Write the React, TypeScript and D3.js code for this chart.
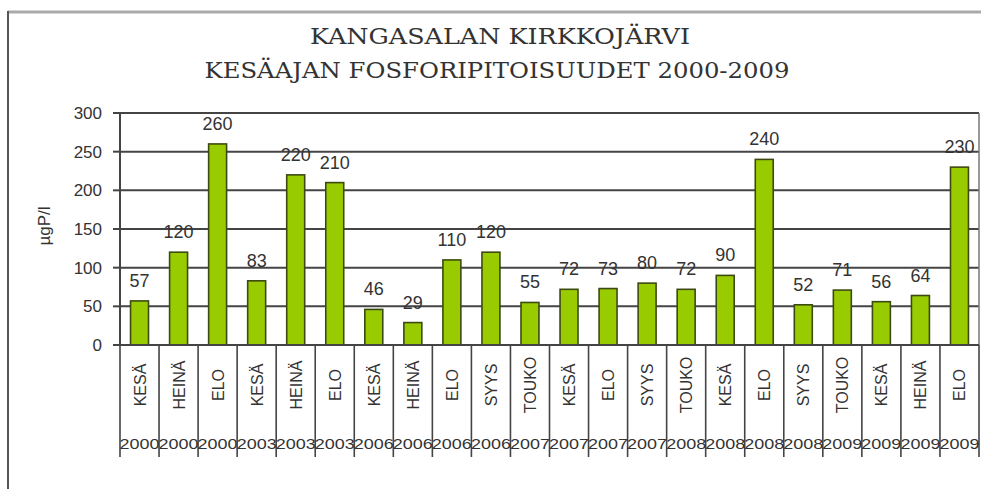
import React from "react";
import * as d3 from "d3";

const months = ["KESÄ","HEINÄ","ELO","KESÄ","HEINÄ","ELO","KESÄ","HEINÄ","ELO","SYYS","TOUKO","KESÄ","ELO","SYYS","TOUKO","KESÄ","ELO","SYYS","TOUKO","KESÄ","HEINÄ","ELO"];
const years = ["2000","2000","2000","2003","2003","2003","2006","2006","2006","2006","2007","2007","2007","2007","2008","2008","2008","2008","2009","2009","2009","2009"];
const values = [57,120,260,83,220,210,46,29,110,120,55,72,73,80,72,90,240,52,71,56,64,230];
const yTicks = [0,50,100,150,200,250,300];
const title1 = "KANGASALAN KIRKKOJÄRVI";
const title2 = "KESÄAJAN FOSFORIPITOISUUDET 2000-2009";
const yLabel = "µgP/l";

export default function App() {
  const W = 981, H = 489;
  const left = 120, right = 979, top = 113, bottom = 345;
  const idx = values.map((_, i) => i);
  const x = d3.scaleBand<number>().domain(idx).range([left, right]).padding(0);
  const y = d3.scaleLinear().domain([0, 300]).range([bottom, top]);
  const bw = x.bandwidth() * 0.46;
  const font = "'Liberation Sans', Arial, sans-serif";
  return (
    <svg width={W} height={H} style={{ position: "absolute", left: 0, top: 0, background: "#fff" }}>
      {/* outer frame */}
      <line x1={8} x2={W} y1={12} y2={12} stroke="#aaa" strokeWidth={3} />
      <line x1={8} x2={8} y1={11} y2={H} stroke="#555" strokeWidth={2} />
      {/* title */}
      <text x={500} y={44} textAnchor="middle" fontFamily="'DejaVu Serif', serif" fontSize={22} fill="#333" textLength={380} lengthAdjust="spacingAndGlyphs">{title1}</text>
      <text x={497} y={78} textAnchor="middle" fontFamily="'DejaVu Serif', serif" fontSize={22} fill="#333" textLength={585} lengthAdjust="spacingAndGlyphs">{title2}</text>
      {/* gridlines */}
      {yTicks.map(t => (
        <g key={t}>
          <line x1={left} x2={right} y1={y(t)} y2={y(t)} stroke="#444" strokeWidth={2} />
          <line x1={113} x2={left} y1={y(t)} y2={y(t)} stroke="#444" strokeWidth={2} />
          <text x={102} y={y(t) + 6} textAnchor="end" fontFamily={font} fontSize={17} fill="#333">{t}</text>
        </g>
      ))}
      <line x1={left} x2={left} y1={top} y2={bottom} stroke="#444" strokeWidth={2} />
      <line x1={right} x2={right} y1={top} y2={bottom} stroke="#777" strokeWidth={1.5} />
      <text transform={`translate(50,226) rotate(-90)`} textAnchor="middle" fontFamily={font} fontSize={17} fill="#333">{yLabel}</text>
      {/* bars */}
      {values.map((v, i) => {
        const cx = (x(i) as number) + x.bandwidth() / 2;
        return (
          <g key={i}>
            <rect x={cx - bw / 2} y={y(v)} width={bw} height={bottom - y(v)} fill="#99cc00" stroke="#3c4a12" strokeWidth={1.6} />
            <text x={cx} y={y(v) - 14} textAnchor="middle" fontFamily={font} fontSize={18} fill="#333">{v}</text>
          </g>
        );
      })}
      {/* category axis */}
      {idx.concat([values.length]).map(i => {
        const xx = i < values.length ? (x(i) as number) : right;
        return <line key={"s" + i} x1={xx} x2={xx} y1={bottom} y2={457} stroke="#444" strokeWidth={1.6} />;
      })}
      <line x1={left} x2={right} y1={bottom} y2={bottom} stroke="#444" strokeWidth={2} />
      {months.map((m, i) => {
        const cx = (x(i) as number) + x.bandwidth() / 2;
        return (
          <text key={"m" + i} transform={`translate(${cx + 6},385) rotate(-90)`} textAnchor="middle" fontFamily={font} fontSize={16} fill="#333">{m}</text>
        );
      })}
      {years.map((yr, i) => {
        const cx = (x(i) as number) + x.bandwidth() / 2;
        return (
          <text key={"y" + i} x={cx} y={449} textAnchor="middle" fontFamily={font} fontSize={15} fill="#333" textLength={40} lengthAdjust="spacingAndGlyphs">{yr}</text>
        );
      })}
    </svg>
  );
}
